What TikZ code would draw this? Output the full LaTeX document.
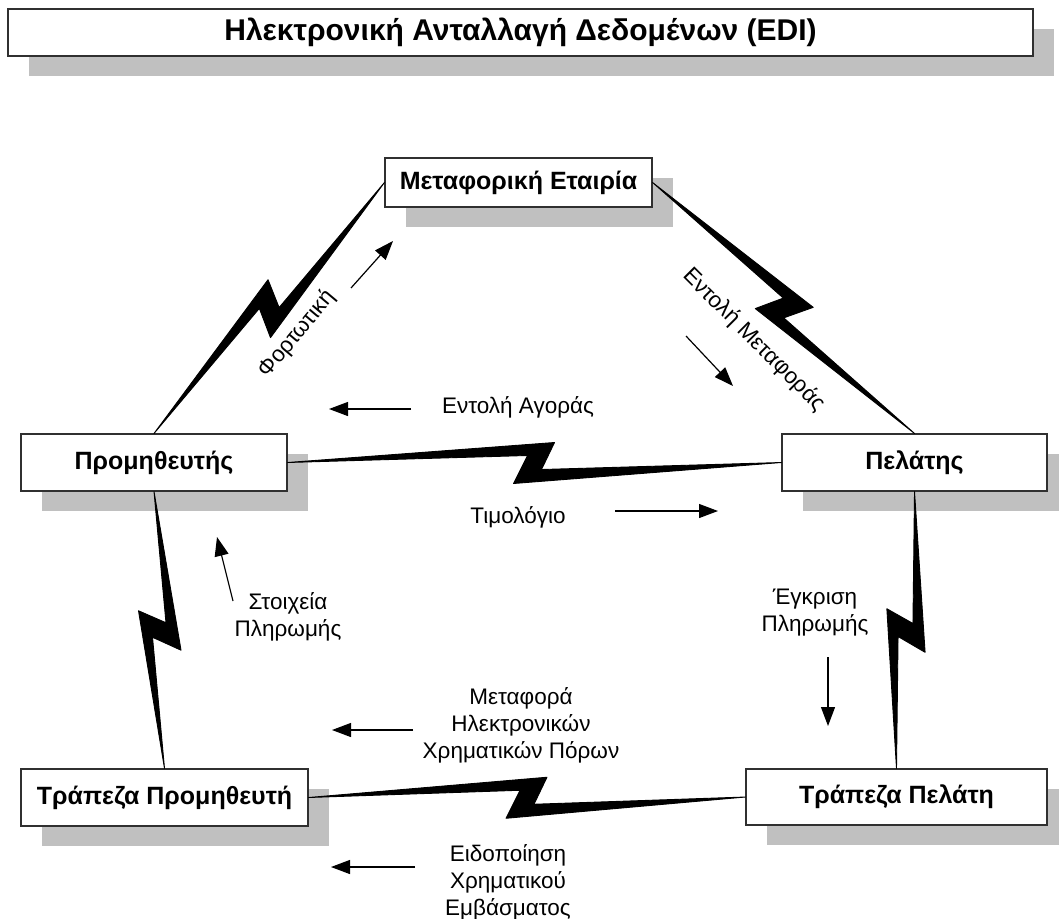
\documentclass[tikz,border=0pt]{standalone}
\usepackage{fontspec}
\setmainfont{Liberation Sans}
\usetikzlibrary{calc,shadows,arrows.meta}

\definecolor{shade}{HTML}{C0C0C0}
\definecolor{boxline}{HTML}{303030}

% Lightning-bolt link between two anchors: two thin wedges joined by a zig-zag
\newcommand\zbolt[2]{%
  \filldraw[bolt] let \p1=(#1), \p2=(#2), \p3=($(#1)!0.5!(#2)$),
      \n1={atan2(\y2-\y1,\x2-\x1)} in
    (\p1) -- ($(\p3)+(\n1:20pt)+({\n1+90}:20pt)$)
    -- ($(\p3)+(\n1:7pt)+({\n1-90}:7pt)$)
    -- (\p2)
    -- ($(\p3)+({\n1+180}:21pt)+({\n1-90}:21pt)$)
    -- ($(\p3)+({\n1+180}:7pt)+({\n1+90}:7pt)$)
    -- cycle;}

\begin{document}
\begin{tikzpicture}[x=1pt,y=-1pt,
  box/.style={draw=boxline, line width=1.1pt, fill=white, inner sep=0pt,
    font=\fontsize{25}{28}\selectfont\bfseries,
    drop shadow={shadow xshift=21pt, shadow yshift=-20pt, fill=shade, opacity=1}},
  lbl/.style={font=\fontsize{22.5}{27}\selectfont, align=center, inner sep=0pt},
  flow/.style={-{Triangle[length=19pt,width=14pt]}, line width=1.2pt},
  bolt/.style={fill=black, draw=black, line width=0.9pt, line join=round}]
\useasboundingbox (0,0) rectangle (1059,918);

% boxes
\node[box, minimum width=1025pt, minimum height=47pt, font=\fontsize{30}{34}\selectfont\bfseries]
  (title) at (520.5,32.5) {Ηλεκτρονική Ανταλλαγή Δεδομένων (EDI)};
\node[box, minimum width=267pt, minimum height=49pt] (metaf) at (518.5,182.5) {Μεταφορική Εταιρία};
\node[box, minimum width=266pt, minimum height=57pt] (prom) at (154,462.5) {Προμηθευτής};
\node[box, minimum width=265pt, minimum height=57pt] (pel) at (914.5,462.5) {Πελάτης};
\node[box, minimum width=287pt, minimum height=57pt] (bprom) at (164.5,797.5) {Τράπεζα Προμηθευτή};
\node[box, minimum width=301pt, minimum height=56pt] (bpel) at (896.5,797) {Τράπεζα Πελάτη};

% links
\zbolt{prom.north}{metaf.west}
\zbolt{pel.north}{metaf.east}
\zbolt{prom.east}{pel.west}
\zbolt{bprom.north}{prom.south}
\zbolt{bpel.north}{pel.south}
\zbolt{bprom.east}{bpel.west}

% message labels
\node[lbl, rotate=50] (fort) at (297,334) {Φορτωτική};
\node[lbl, rotate=-45] (entmet) at (754,340) {Εντολή Μεταφοράς};
\node[lbl] (entag) at (518,407) {Εντολή Αγοράς};
\node[lbl] (timol) at (518,517) {Τιμολόγιο};
\node[lbl] (stoix) at (288,617) {Στοιχεία\\Πληρωμής};
\node[lbl] (egkr) at (815,613) {Έγκριση\\Πληρωμής};
\node[lbl] (metfor) at (521,725) {Μεταφορά\\Ηλεκτρονικών\\Χρηματικών Πόρων};
\node[lbl] (eidop) at (508,882) {Ειδοποίηση\\Χρηματικού\\Εμβάσματος};

% message arrows
\coordinate (fortA) at (351,288);   \coordinate (fortB) at (393,241);
\coordinate (entmetA) at (686,336); \coordinate (entmetB) at (733,386);
\coordinate (entagA) at (411,409);  \coordinate (entagB) at (329,409);
\coordinate (timolA) at (615,511);  \coordinate (timolB) at (718,511);
\coordinate (stoixA) at (233,601);  \coordinate (stoixB) at (217,537);
\coordinate (egkrA) at (828,657);   \coordinate (egkrB) at (828,726);
\coordinate (metforA) at (413,730); \coordinate (metforB) at (332,730);
\coordinate (eidopA) at (415,867);  \coordinate (eidopB) at (331,867);

\draw[flow] (fortA) -- (fortB);
\draw[flow] (entmetA) -- (entmetB);
\draw[flow] (entagA) -- (entagB);
\draw[flow] (timolA) -- (timolB);
\draw[flow] (stoixA) -- (stoixB);
\draw[flow] (egkrA) -- (egkrB);
\draw[flow] (metforA) -- (metforB);
\draw[flow] (eidopA) -- (eidopB);
\end{tikzpicture}
\end{document}
